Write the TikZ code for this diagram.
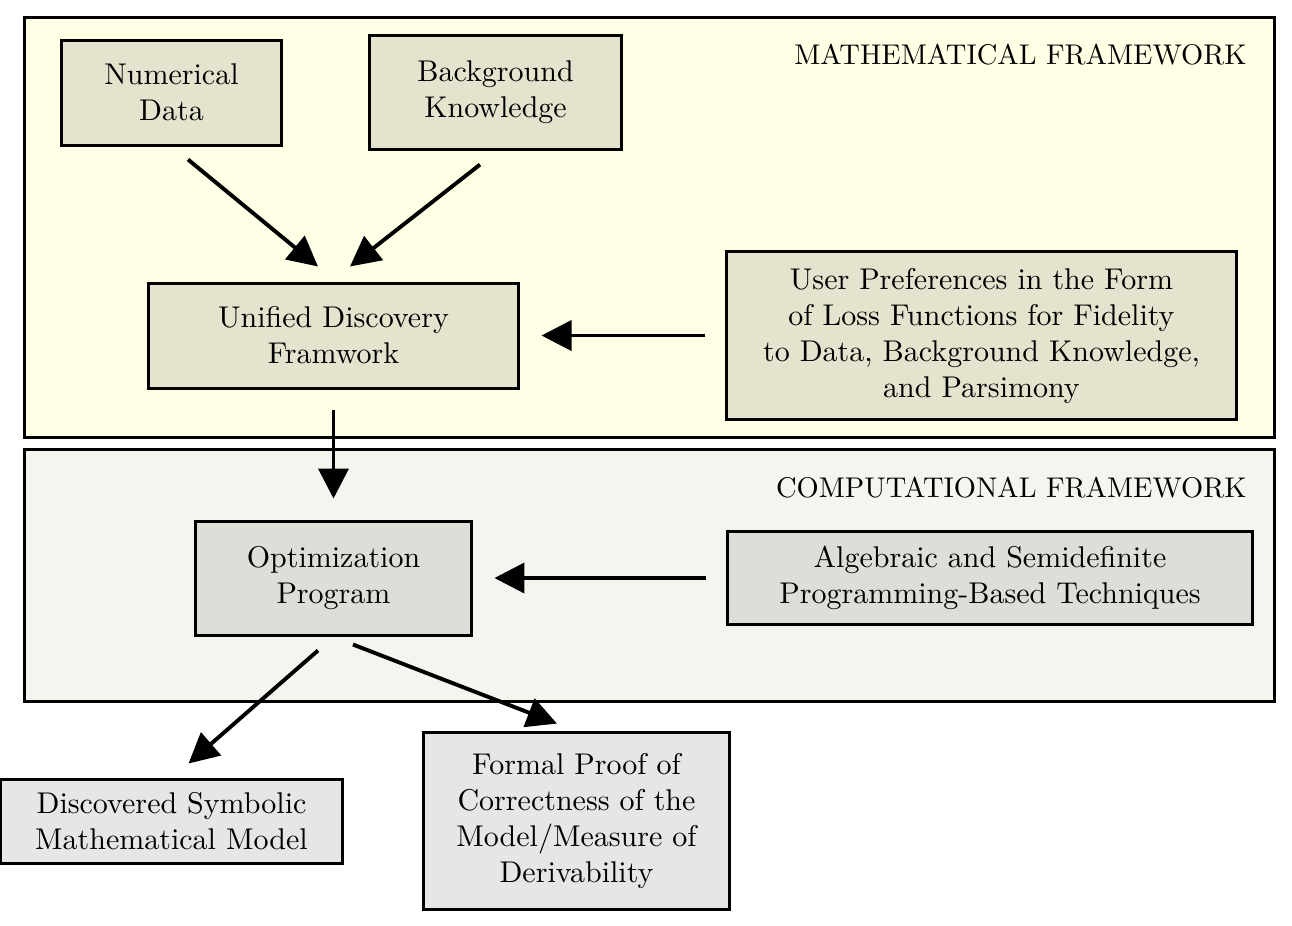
\documentclass[tikz,border=0pt]{standalone}
\usetikzlibrary{calc,arrows.meta}
\definecolor{mathbg}{HTML}{FFFFE6}
\definecolor{compbg}{HTML}{F2F6EF}
\definecolor{mathbox}{HTML}{E3E3CE}
\definecolor{compbox}{HTML}{DBDFD7}
\definecolor{outbox}{HTML}{E6E6E6}
\tikzset{
  frame/.style={draw=black,line width=1pt},
  box/.style={draw=black,line width=1pt,align=center,inner sep=0pt},
  mbox/.style={box,fill=mathbox},
  cbox/.style={box,fill=compbox},
  obox/.style={box,fill=outbox},
  conn/.style={line width=1.3pt,-{Triangle[length=10pt,width=10pt]}},
  flabel/.style={anchor=east,inner sep=0pt,font=\fontsize{9.5}{11}\selectfont}
}
\begin{document}
\begin{tikzpicture}[x={(0.33333pt,0)},y={(0,-0.33333pt)}]
\useasboundingbox (0,0) rectangle (1292,925);
% frameworks
\draw[frame,fill=mathbg] (24,17) rectangle (1274,437);
\draw[frame,fill=compbg] (24,449) rectangle (1274,701);
\node[flabel] (mlab) at (1247,55) {MATHEMATICAL FRAMEWORK};
\node[flabel] (clab) at (1247,488) {COMPUTATIONAL FRAMEWORK};
% nodes
\node[mbox,minimum width=73pt,minimum height=35pt] (num) at (171.5,92.5) {Numerical\\Data};
\node[mbox,minimum width=84.3pt,minimum height=37.7pt] (bk) at (495.5,92.5) {Background\\Knowledge};
\node[mbox,minimum width=123pt,minimum height=35pt] (udf) at (333.5,335.5) {Unified Discovery\\Framwork};
\node[mbox,minimum width=169.7pt,minimum height=55.7pt] (user) at (981.5,335.5) {User Preferences in the Form\\of Loss Functions for Fidelity\\to Data, Background Knowledge,\\and Parsimony};
\node[cbox,minimum width=92.3pt,minimum height=38pt] (opt) at (333.5,578) {Optimization\\Program};
\node[cbox,minimum width=175.3pt,minimum height=30.7pt] (alg) at (990,578) {Algebraic and Semidefinite\\Programming-Based Techniques};
\node[obox,minimum width=113.7pt,minimum height=28pt] (disc) at (171.5,821) {Discovered Symbolic\\Mathematical Model};
\node[obox,minimum width=101.7pt,minimum height=59.3pt] (formal) at (576.5,821) {Formal Proof of\\Correctness of the\\Model/Measure of\\Derivability};
% connectors
\draw[conn] ($(num.south)+(16.5,13)$) -- ($(udf.north)+(-15.5,-15)$);
\draw[conn] ($(bk.south)+(-15.5,14)$) -- ($(udf.north)+(16.5,-15)$);
\draw[conn] ($(user.west)+(-20,0)$) -- ($(udf.east)+(22,0)$);
\draw[conn] ($(udf.south)+(0,20)$) -- ($(opt.north)+(0,-21)$);
\draw[conn] ($(alg.west)+(-20,0)$) -- ($(opt.east)+(21,0)$);
\draw[conn] ($(opt.south)+(-15.5,14)$) -- ($(disc.north)+(17,-14)$);
\draw[conn] ($(opt.south)+(19.5,8)$) -- ($(formal.north)+(-19.5,-7)$);
\end{tikzpicture}
\end{document}
